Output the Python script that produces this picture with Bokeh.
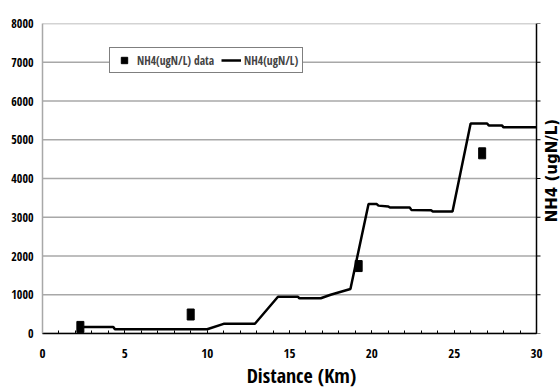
import math
from bokeh.plotting import figure
from bokeh.models import (ColumnDataSource, LinearAxis, Range1d, SingleIntervalTicker,
                          Legend, LegendItem, Label, Span)
from bokeh.embed import file_html
from bokeh.resources import INLINE

# NH4 concentration along the river, model profile (km, ugN/L)
model_km = [2.5, 4.3, 4.4, 10.0, 11.0, 12.9, 14.3, 15.5, 15.6, 16.9, 17.5, 18.7,
            19.8, 20.3, 20.4, 21.0, 21.1, 22.3, 22.4, 23.6, 23.7, 24.9,
            26.0, 27.0, 27.1, 27.9, 28.0, 30.0]
model_nh4 = [170, 170, 110, 110, 250, 250, 950, 950, 910, 910, 1000, 1150,
             3340, 3340, 3300, 3280, 3250, 3250, 3190, 3180, 3150, 3150,
             5420, 5420, 5370, 5370, 5320, 5320]

# Measured NH4 samples
obs_km = [2.3, 9.0, 19.2, 26.7]
obs_nh4 = [170, 490, 1740, 4650]

y_ticks = [0, 1000, 2000, 3000, 4000, 5000, 6000, 7000, 8000]
x_ticks = [0, 5, 10, 15, 20, 25, 30]

X_MAX = 30
Y_MAX = 8000
NARROW = "Open Sans Condensed"

# The frame runs to the page's right edge so the right-hand title fits in it;
# the visible axes stop at X_MAX (494 px of a 518 px wide frame).
x_end = X_MAX * 518 / 494

p = figure(width=560, height=392, output_backend="svg", toolbar_location=None,
           x_range=Range1d(0, x_end), y_range=Range1d(0, Y_MAX),
           min_border_left=42, min_border_right=0, min_border_top=23,
           min_border_bottom=59, y_axis_location=None, x_axis_location=None)
p.background_fill_color = "white"
p.border_fill_color = "white"
p.outline_line_color = None

# bottom axis: black line, small inward ticks each km
xa = LinearAxis(ticker=SingleIntervalTicker(interval=5, num_minor_ticks=5),
                bounds=(0, X_MAX))
xa.axis_line_color = "black"
xa.axis_line_width = 1.5
xa.major_tick_in = 3
xa.major_tick_out = 0
xa.minor_tick_in = 3
xa.minor_tick_out = 0
xa.major_tick_line_color = "black"
xa.minor_tick_line_color = "black"
xa.major_label_text_font = NARROW
xa.major_label_text_font_size = "13px"
xa.major_label_text_color = "black"
xa.major_label_standoff = 15
xa.axis_label = "Distance (Km)"
xa.axis_label_text_font = NARROW
xa.axis_label_text_font_style = "bold"
xa.axis_label_text_font_size = "20px"
xa.axis_label_text_color = "black"
xa.axis_label_standoff = 1
p.add_layout(xa, "below")

# left axis: grey line with labels only
ya = LinearAxis(ticker=SingleIntervalTicker(interval=1000, num_minor_ticks=0))
ya.axis_line_color = "#a8a8a8"
ya.axis_line_width = 1.5
ya.major_tick_in = 0
ya.major_tick_out = 0
ya.minor_tick_line_color = None
ya.major_label_text_font = NARROW
ya.major_label_text_font_size = "12px"
ya.major_label_text_color = "black"
ya.major_label_standoff = 9
p.add_layout(ya, "left")

p.xgrid.grid_line_color = None
p.ygrid.grid_line_color = None

# horizontal gridlines every 1000, ending at the right axis
p.segment(x0=[0] * len(y_ticks), y0=y_ticks, x1=[X_MAX] * len(y_ticks), y1=y_ticks,
          line_color="#a8a8a8", line_width=1.5)

# right axis: black line with short outward ticks
p.add_layout(Span(location=X_MAX, dimension="height", line_color="black", line_width=1.5))
p.ray(x=[X_MAX] * len(y_ticks), y=y_ticks, length=4, length_units="screen", angle=0,
      line_color="black", line_width=1.2)

# right-hand title, reading bottom to top
p.add_layout(Label(x=X_MAX, y=2870, x_offset=15, text="NH4 (ugN/L)", angle=math.pi / 2,
                   text_align="left", text_baseline="middle",
                   text_font="DejaVu Sans", text_font_style="bold",
                   text_font_size="15px", text_color="black"))

model_src = ColumnDataSource(dict(x=model_km, y=model_nh4))
obs_src = ColumnDataSource(dict(x=obs_km, y=obs_nh4))

line_r = p.line("x", "y", source=model_src, line_color="black", line_width=2.5)
p.rect("x", "y", source=obs_src, width=7, height=11, width_units="screen",
       height_units="screen", fill_color="black", line_color="black")
# marker used for the legend entry of the samples
legend_marker = p.scatter(x=[float("nan")], y=[float("nan")], marker="square",
                          size=7, fill_color="black", line_color="black")

legend = Legend(items=[LegendItem(label="NH4(ugN/L) data", renderers=[legend_marker]),
                       LegendItem(label="NH4(ugN/L)", renderers=[line_r])],
                orientation="horizontal", location=(67, 260),
                glyph_width=20, glyph_height=16, label_standoff=3, spacing=7,
                padding=4, margin=0, label_text_font=NARROW,
                label_text_font_size="11.5px", label_height=16,
                border_line_color="black", border_line_width=1,
                background_fill_color="white", background_fill_alpha=1)
p.add_layout(legend)

open("out.html", "w").write(file_html(p, INLINE))
